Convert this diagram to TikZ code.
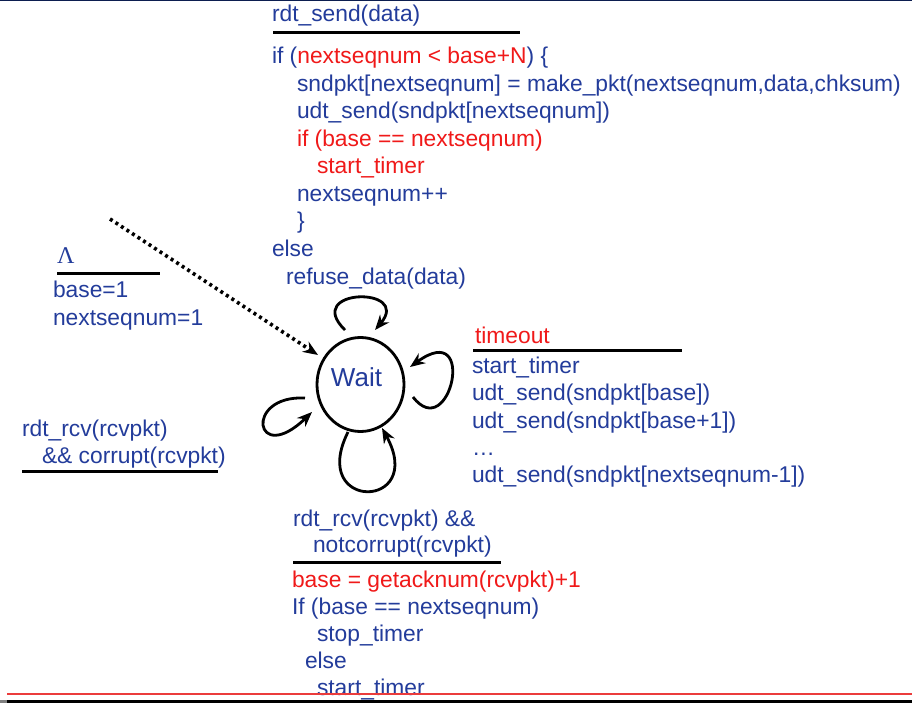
\documentclass[tikz,border=0pt]{standalone}
\usepackage{fontspec}
\setmainfont{Liberation Sans}
\newfontfamily\lamfont{Liberation Serif}
\usetikzlibrary{arrows.meta,shapes.geometric}

\definecolor{codeblue}{RGB}{35,60,155}
\definecolor{codered}{RGB}{240,25,25}
\definecolor{topnavy}{RGB}{12,30,80}
\definecolor{footred}{RGB}{235,60,60}

\begin{document}
\begin{tikzpicture}[x=1pt,y=-1pt,
  code/.style={font=\fontsize{22.8}{27}\selectfont, text=codeblue,
               anchor=base west, inner sep=0pt, outer sep=0pt},
  hot/.style={code, text=codered},
  guard/.style={line width=3pt, black},
  waitstate/.style={draw, ellipse, line width=2.8pt, minimum width=87pt,
               minimum height=94pt, inner sep=0pt, text=codeblue,
               font=\fontsize{26}{30}\selectfont,
               text height=18.6pt, text depth=14pt},
  selfloop/.style={line width=2.8pt, black, -{Stealth[length=15pt,width=12pt]}},
  initarrow/.style={line width=3.6pt, black, dash pattern=on 3pt off 3.6pt,
               -{Stealth[length=15pt,width=12pt]}}]

\useasboundingbox (0,0) rectangle (912,703);
\fill[white] (0,0) rectangle (912,703);
\fill[topnavy] (0,0) rectangle (912,1.5);

% the single state
\node[waitstate] (w) at (360.5,384.5) {Wait\kern8pt};

% initial transition
\node[code, font=\lamfont\fontsize{24}{28}\selectfont] (lam) at (57,263) {Λ};
\draw[guard] (57,273) -- (160,273);
\node[code] (ini1) at (53,297) {base=1};
\node[code] (ini2) at (53,325) {nextseqnum=1};
\coordinate (init) at (110,219);
\draw[initarrow] (init) -- ([shift={(-42.5,-29.5)}]w.center);

% rdt_send event (top loop)
\node[code] (snd0) at (272,22) {rdt\_send(data)};
\draw[guard] (273,33) -- (520,33);
\node[code] (snd1) at (272,64) {if (\textcolor{codered}{nextseqnum < base+N}) \{};
\node[code] (snd2) at (297,91.5) {sndpkt[nextseqnum] = make\_pkt(nextseqnum,data,chksum)};
\node[code] (snd3) at (297,119) {udt\_send(sndpkt[nextseqnum])};
\node[hot]  (snd4) at (297,146.5) {if (base == nextseqnum)};
\node[hot]  (snd5) at (317,174) {start\_timer};
\node[code] (snd6) at (297,201.5) {nextseqnum++};
\node[code] (snd7) at (297,229) {\}};
\node[code] (snd8) at (272,256.5) {else};
\node[code] (snd9) at (286,284) {refuse\_data(data)};

% timeout event (right loop)
\node[hot]  (to0) at (475,343) {timeout};
\draw[guard] (473,350) -- (682,350);
\node[code] (to1) at (472,373) {start\_timer};
\node[code] (to2) at (472,400.5) {udt\_send(sndpkt[base])};
\node[code] (to3) at (472,428) {udt\_send(sndpkt[base+1])};
\node[code] (to4) at (472,455) {…};
\node[code] (to5) at (472,482.5) {udt\_send(sndpkt[nextseqnum-1])};

% corrupt ack (left loop)
\node[code] (cr1) at (22,436) {rdt\_rcv(rcvpkt)};
\node[code] (cr2) at (42,463) {\&\& corrupt(rcvpkt)};
\draw[guard] (22,471) -- (218,471);

% good ack (bottom loop)
\node[code] (ak1) at (293,526) {rdt\_rcv(rcvpkt) \&\&};
\node[code] (ak2) at (313,552.5) {notcorrupt(rcvpkt)};
\draw[guard] (293,562) -- (501,562);
\node[hot]  (ak3) at (292,587) {base = getacknum(rcvpkt)+1};
\node[code] (ak4) at (292,614) {If (base == nextseqnum)};
\node[code] (ak5) at (317,641.5) {stop\_timer};
\node[code] (ak6) at (305,668) {else};
\node[code] (ak7) at (317,695) {start\_timer};

% self loops on Wait
\draw[selfloop] ([shift={(-15.5,-54.5)}]w.center)
  .. controls (302,288) and (412,286) .. ([shift={(14.5,-54.5)}]w.center);
\draw[selfloop] ([shift={(52.5,12.5)}]w.center)
  .. controls (450,445) and (478,318) .. ([shift={(49.5,-17.5)}]w.center);
\draw[selfloop] ([shift={(-55.5,13.5)}]w.center)
  .. controls (243,395) and (255,467) .. ([shift={(-48.5,27.5)}]w.center);
\draw[selfloop] ([shift={(-12.5,47.5)}]w.center)
  .. controls (308,512) and (427,510) .. ([shift={(21.5,43.5)}]w.center);

% footer rules
\draw[footred, line width=2.5pt] (7,694) -- (912,694);
\fill[black] (7,700) rectangle (912,703);
\fill[gray] (0,700) rectangle (7,703);
\end{tikzpicture}
\end{document}
